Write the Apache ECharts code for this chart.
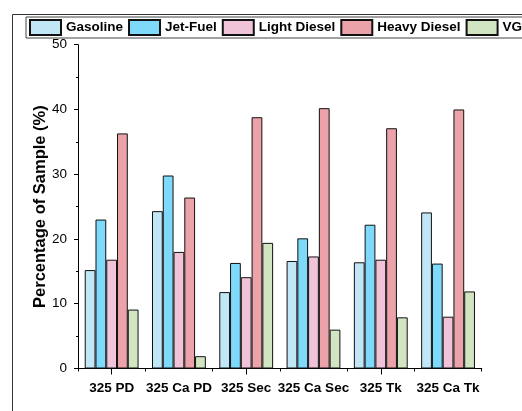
<!DOCTYPE html>
<html><head><meta charset="utf-8">
<script src="https://cdn.jsdelivr.net/npm/echarts@6/dist/echarts.min.js"></script>
<style>html,body{margin:0;padding:0;background:#fff}#c{width:522px;height:411px}</style>
</head><body><div id="c"></div>
<script>
const categories = ['325 PD','325 Ca PD','325 Sec','325 Ca Sec','325 Tk','325 Ca Tk'];
const seriesNames = ['Gasoline','Jet-Fuel','Light Diesel','Heavy Diesel','VGO'];
const gasoline    = [15.2, 24.3, 11.8, 16.6, 16.4, 24.1];
const jetFuel     = [23.0, 29.8, 16.3, 20.1, 22.2, 16.2];
const lightDiesel = [16.8, 18.0, 14.1, 17.3, 16.8, 8.0];
const heavyDiesel = [36.3, 26.4, 38.8, 40.2, 37.1, 40.0];
const vgo         = [9.1, 1.9, 19.4, 6.0, 7.9, 11.9];
const yTicks = [0, 10, 20, 30, 40, 50];
const colors = ['#C1E6F6','#7ED9FA','#F0C3D8','#EBA2A9','#D2E5C3'];
const allData = [gasoline, jetFuel, lightDiesel, heavyDiesel, vgo];
const font = 'Liberation Sans, Arial, sans-serif';

const chart = echarts.init(document.getElementById('c'), null, {renderer:'canvas'});
chart.setOption({
  animation:false,
  backgroundColor:'#fff',
  graphic:[{type:'rect', left:10, top:12, shape:{x:0.5, y:0.5, width:600, height:500}, style:{fill:'none', stroke:'#333', lineWidth:1}, silent:true}],
  legend:{
    left:26, top:17, width:700, padding:[2,3], itemGap:5, itemWidth:31, itemHeight:15,
    icon:'rect',
    borderColor:'#444', borderWidth:1, borderRadius:0,
    textStyle:{fontFamily:font, fontWeight:'bold', fontSize:13.5, color:'#000'},
    data:seriesNames
  },
  grid:{left:78, top:44.7, right:40.3, bottom:42.5},
  xAxis:[{
    type:'category', data:categories,
    axisLine:{lineStyle:{color:'#000', width:1}},
    axisTick:{show:true, alignWithLabel:false, length:3, lineStyle:{color:'#000'}},
    axisLabel:{fontFamily:font, fontWeight:'bold', fontSize:13.5, color:'#000', margin:13, interval:0}
  },{
    type:'category', data:categories, position:'bottom',
    axisLine:{show:false},
    axisTick:{show:true, alignWithLabel:true, length:6, lineStyle:{color:'#000'}},
    axisLabel:{show:false}
  }],
  yAxis:{
    type:'value', min:yTicks[0], max:yTicks[yTicks.length-1], interval:10,
    name:'Percentage of Sample (%)', nameLocation:'middle', nameGap:29, nameMoveOverlap:false,
    nameTextStyle:{fontFamily:font, fontWeight:'bold', fontSize:16.5, color:'#000'},
    axisLine:{show:true, lineStyle:{color:'#000', width:1}},
    axisTick:{show:true, length:4, lineStyle:{color:'#000'}},
    minorTick:{show:true, splitNumber:2, length:2, lineStyle:{color:'#000'}},
    splitLine:{show:false},
    axisLabel:{fontFamily:font, fontSize:13.5, color:'#000', margin:11}
  },
  series: seriesNames.map((n,i)=>({
    name:n, type:'bar', data:allData[i], xAxisIndex:0,
    barGap:'0%', barCategoryGap:'20%',
    itemStyle:{color:colors[i], borderColor:'#111', borderWidth:1}
  }))
});
</script></body></html>
